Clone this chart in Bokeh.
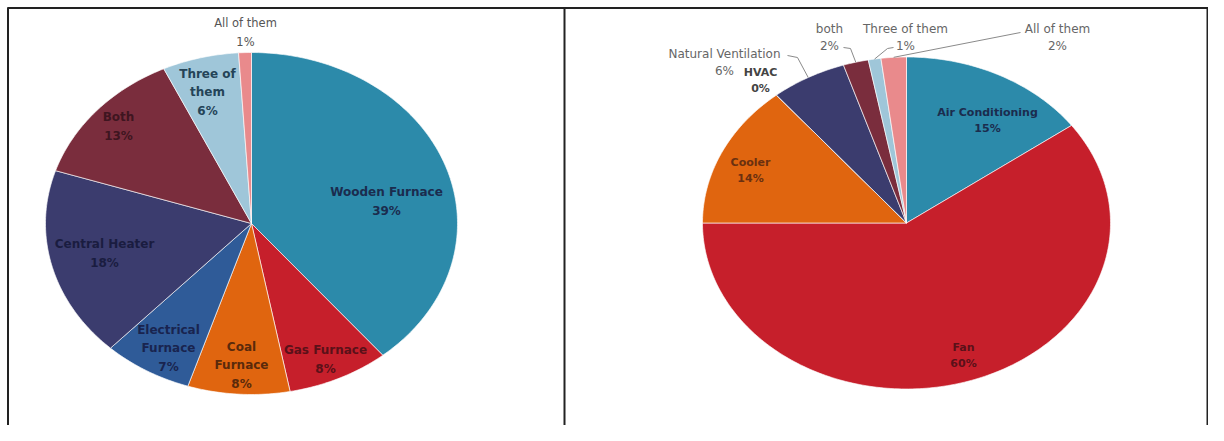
import numpy as np
from bokeh.plotting import figure
from bokeh.models import Range1d, ColumnDataSource
from bokeh.embed import file_html
from bokeh.resources import INLINE
from bokeh.core.properties import value

# ---------------- data ----------------
heat_labels = ["Wooden Furnace", "Gas Furnace", "Coal Furnace", "Electrical Furnace",
               "Central Heater", "Both", "Three of them", "All of them"]
heat_values = [39, 8, 8, 7, 18, 13, 6, 1]

cool_labels = ["Air Conditioning", "Fan", "Cooler", "HVAC",
               "Natural Ventilation", "both", "Three of them", "All of them"]
cool_values = [15, 60, 14, 0, 6, 2, 1, 2]

slice_colors = ["#2c8aaa", "#c61f2b", "#e0650f", "#2f5b98",
                "#3b3c6e", "#7a2d3d", "#9fc6d9", "#e98a8c"]

# ---------------- layout / style ----------------
W, H = 1208, 425
def px(X):
    return X
def py(Y):
    return H - Y

heat_wrap = {"Electrical Furnace": "Electrical\nFurnace", "Coal Furnace": "Coal\nFurnace",
             "Three of them": "Three of\nthem"}
heat_pos = [(386, 201), (325, 359), (241, 365), (168, 348), (104, 253), (118, 126), (207, 92), (245, 32)]
heat_text_colors = ["#1b2c4e", "#5a1119", "#5a2a0b", "#19244f", "#1a1c40", "#3e1520", "#244458", "#555555"]

cool_pos = [(987, 120), (963, 355), (750, 170), (760, 80), (724, 62), (829, 37), (905, 37), (1057, 37)]
cool_text_colors = ["#1b2c4e", "#5a1119", "#6a3010", "#444444", "#666666", "#666666", "#666666", "#666666"]
cool_inside = [True, True, True, False, False, False, False, False]
# leader start / elbow points (page coords) for outside labels
cool_leaders = {4: [(787, 55), (797, 57)], 5: [(843, 47), (850, 48)],
                6: [(893, 47), (887, 48)], 7: [(1020, 32)]}

heat_geo = dict(cx=251, cy=223, a=206, b=171)
cool_geo = dict(cx=906, cy=222.5, a=204, b=166)

p = figure(width=W, height=H, x_range=Range1d(0, W), y_range=Range1d(0, H),
           output_backend="svg", toolbar_location=None,
           x_axis_location=None, y_axis_location=None, min_border=0)
p.grid.visible = False
p.outline_line_color = None
p.background_fill_color = "white"
p.border_fill_color = "white"


def pie(vals, geo):
    cx, cy, a, b = px(geo["cx"]), py(geo["cy"]), geo["a"], geo["b"]
    total = float(sum(vals))
    cum = np.concatenate([[0], np.cumsum(vals)]) / total * 2 * np.pi
    xs, ys = [], []
    for t0, t1 in zip(cum[:-1], cum[1:]):
        n = max(2, int((t1 - t0) / (2 * np.pi) * 360) + 2)
        t = np.linspace(t0, t1, n)
        xs.append([cx] + list(cx + a * np.sin(t)))
        ys.append([cy] + list(cy + b * np.cos(t)))
    src = ColumnDataSource(dict(xs=xs, ys=ys, c=slice_colors[:len(vals)]))
    p.patches("xs", "ys", source=src, fill_color="c", line_color="white",
              line_width=0.8, line_alpha=0.8)
    mids = (cum[:-1] + cum[1:]) / 2
    edge = [(cx + a * np.sin(m), cy + b * np.cos(m)) for m in mids]
    return edge


heat_edge = pie(heat_values, heat_geo)
cool_edge = pie(cool_values, cool_geo)

# heating labels
for i, (lab, v) in enumerate(zip(heat_labels, heat_values)):
    txt = f"{heat_wrap.get(lab, lab)}\n{v}%"
    X, Y = heat_pos[i]
    p.text(x=[px(X)], y=[py(Y)], text=[txt], text_align="center", text_baseline="middle",
           text_font=value("DejaVu Sans"), text_font_size="12px" if i < 7 else "11.5px",
           text_font_style="bold" if i < 7 else "normal",
           text_line_height=1.3, text_color=heat_text_colors[i])

# cooling labels
for i, (lab, v) in enumerate(zip(cool_labels, cool_values)):
    txt = f"{lab}\n{v}%"
    X, Y = cool_pos[i]
    bold = cool_inside[i] or lab == "HVAC"
    p.text(x=[px(X)], y=[py(Y)], text=[txt], text_align="center", text_baseline="middle",
           text_font=value("DejaVu Sans"), text_font_size="11px" if bold else "12px",
           text_font_style="bold" if bold else "normal",
           text_line_height=1.25, text_color=cool_text_colors[i])
    if i in cool_leaders:
        pts = [(px(X0), py(Y0)) for X0, Y0 in cool_leaders[i]] + [cool_edge[i]]
        p.line([q[0] for q in pts], [q[1] for q in pts], line_color="#8a8a8a", line_width=1)

# panel frames
p.line([px(7), W], [py(7.5), py(7.5)], line_color="#222222", line_width=2)
p.line([px(7.5), px(7.5)], [0, py(7)], line_color="#222222", line_width=2)
p.line([px(564), px(564)], [0, py(7)], line_color="#222222", line_width=2)
p.line([W - 1, W - 1], [0, py(7)], line_color="#222222", line_width=2)

open("out.html", "w").write(file_html(p, INLINE))
